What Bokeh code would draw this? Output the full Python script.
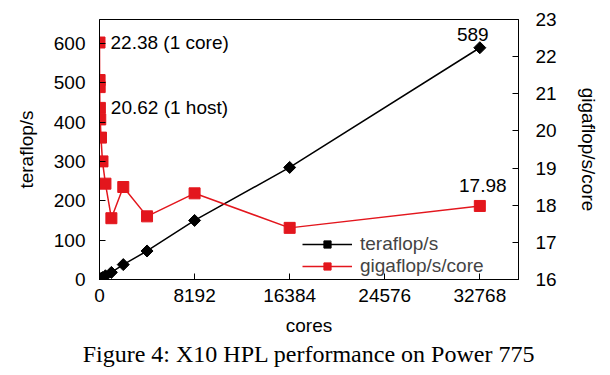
import numpy as np
from bokeh.plotting import figure
from bokeh.models import Range1d, LinearAxis, FixedTicker, Label, Title, Legend, LegendItem
from bokeh.embed import file_html
from bokeh.resources import INLINE

# ---- data ----
cores = [1, 8, 16, 32, 64, 128, 256, 512, 1024, 2048, 4096, 8192, 16384, 32768]
gflops_per_core = [22.38, 21.37, 21.18, 20.62, 20.31, 19.82, 19.18, 18.58,
                   17.65, 18.49, 17.70, 18.32, 17.39, 17.98]
teraflops = [0.022, 0.171, 0.339, 0.660, 1.30, 2.54, 4.91, 9.51,
             18.07, 37.87, 72.50, 150.1, 284.9, 589.2]

x_ticks = [0, 8192, 16384, 24576, 32768]
left_ticks = [0, 100, 200, 300, 400, 500, 600]
right_ticks = [16, 17, 18, 19, 20, 21, 22, 23]

series_names = ["teraflop/s", "gigaflop/s/core"]
caption = "Figure 4: X10 HPL performance on Power 775"
x_label = "cores"
y_label = "teraflop/s"
y2_label = "gigaflop/s/core"

RED = "#e3161d"
FONT = "Liberation Sans"
FS = "19px"

p = figure(width=602, height=370,
           x_range=Range1d(0, 36100), y_range=Range1d(0, 661),
           output_backend="svg", toolbar_location=None,
           min_border_left=99, min_border_right=84,
           min_border_top=19, min_border_bottom=91)
p.extra_y_ranges = {"gf": Range1d(16, 23)}

p.xgrid.visible = False
p.ygrid.visible = False
p.outline_line_color = "black"
p.outline_line_width = 1
p.background_fill_color = "white"
p.border_fill_color = "white"

def style_axis(ax, standoff, label_standoff):
    ax.major_tick_in = 6
    ax.major_tick_out = 0
    ax.minor_tick_in = 0
    ax.minor_tick_out = 0
    ax.axis_line_color = "black"
    ax.major_tick_line_color = "black"
    ax.major_label_text_font = FONT
    ax.major_label_text_font_size = FS
    ax.major_label_text_color = "black"
    ax.major_label_standoff = standoff
    ax.axis_label_text_font = FONT
    ax.axis_label_text_font_size = FS
    ax.axis_label_text_font_style = "normal"
    ax.axis_label_text_color = "black"
    ax.axis_label_standoff = label_standoff

p.xaxis.ticker = FixedTicker(ticks=x_ticks)
p.xaxis.axis_label = x_label
style_axis(p.xaxis[0], 9, 10)

p.yaxis.ticker = FixedTicker(ticks=left_ticks)
p.yaxis.axis_label = y_label
style_axis(p.yaxis[0], 14, 14)

ax2 = LinearAxis(y_range_name="gf", ticker=FixedTicker(ticks=right_ticks),
                 axis_label=y2_label)
style_axis(ax2, 17, 18)
p.add_layout(ax2, "right")

# teraflop/s series
l1 = p.line(cores, teraflops, line_color="black", line_width=1.5)
m1 = p.scatter(cores, teraflops, marker="square", angle=np.pi / 4, size=8.5,
               fill_color="black", line_color="black")

# gigaflop/s/core series
l2 = p.line(cores, gflops_per_core, line_color=RED, line_width=1.5, y_range_name="gf")
m2 = p.scatter(cores, gflops_per_core, marker="square", size=11,
               fill_color=RED, line_color=RED, y_range_name="gf")

legend = Legend(items=[LegendItem(label=series_names[0], renderers=[l1, m1]),
                       LegendItem(label=series_names[1], renderers=[l2, m2])],
                location=(203, 2), glyph_width=50, glyph_height=18,
                label_height=18,
                label_text_font=FONT, label_text_font_size=FS,
                border_line_color=None, background_fill_alpha=0,
                spacing=0, padding=4, margin=0, label_standoff=8)
p.add_layout(legend)

# point annotations
def annot(text, x, y, xo, yo, align, rng="default"):
    p.add_layout(Label(x=x, y=y, text=text, x_offset=xo, y_offset=yo,
                       text_align=align, text_baseline="middle",
                       text_font=FONT, text_font_size=FS, text_color="black",
                       y_range_name=rng))

annot(f"{gflops_per_core[0]:.2f} (1 core)", cores[0], gflops_per_core[0], 11, 0, "left", "gf")
annot(f"{gflops_per_core[3]:.2f} (1 host)", cores[3], gflops_per_core[3], 11, 0, "left", "gf")
annot(f"{teraflops[-1]:.0f}", cores[-1], teraflops[-1], -7, 13, "center")
annot(f"{gflops_per_core[-1]:.2f}", cores[-1], gflops_per_core[-1], 3, 20, "center", "gf")

p.add_layout(Title(text=caption, align="center", text_font="Liberation Serif",
                   text_font_size="24px", text_font_style="normal",
                   text_color="black", standoff=0), "below")

open("out.html", "w").write(file_html(p, INLINE))
